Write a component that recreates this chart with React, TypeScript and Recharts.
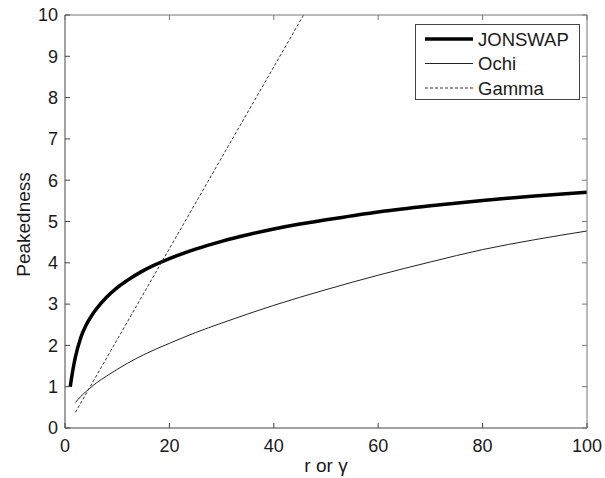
import React from "react";
import { LineChart, Line, XAxis, YAxis } from "recharts";

// values
const jonswapX = [1, 1.5, 2, 3, 4, 5, 6, 8, 10, 12, 15, 20, 25, 30, 35, 40, 45, 50, 60, 70, 80, 90, 100];
const jonswapY = [1.0, 1.4, 1.72, 2.18, 2.48, 2.7, 2.88, 3.17, 3.4, 3.58, 3.81, 4.1, 4.33, 4.52, 4.68, 4.82, 4.94, 5.04, 5.23, 5.38, 5.51, 5.62, 5.71];

const ochiX = [2, 3, 4, 5, 6, 8, 10, 12, 15, 20, 25, 30, 40, 50, 60, 70, 80, 90, 100];
const ochiY = [0.62, 0.76, 0.88, 0.99, 1.09, 1.26, 1.42, 1.57, 1.77, 2.05, 2.31, 2.54, 2.97, 3.35, 3.7, 4.02, 4.32, 4.56, 4.77];

const gammaX = [2, 45.7];
const gammaY = [0.38, 10];

const xTicks = [0, 20, 40, 60, 80, 100];
const yTicks = [0, 1, 2, 3, 4, 5, 6, 7, 8, 9, 10];

const toPoints = (xs: number[], ys: number[]) => xs.map((x, i) => ({ x, y: ys[i] }));

const series = [
    { name: "JONSWAP", data: toPoints(jonswapX, jonswapY), stroke: "#000", width: 3.5, dash: undefined as string | undefined },
    { name: "Ochi", data: toPoints(ochiX, ochiY), stroke: "#222", width: 1, dash: undefined as string | undefined },
    { name: "Gamma", data: toPoints(gammaX, gammaY), stroke: "#333", width: 1, dash: "3 2" },
];

const W = 605;
const H = 478;
const margin = { top: 14, right: 17, bottom: 0, left: 0 };
const PLOT_TOP = margin.top + 1; // top axis is 1px tall
const PLOT_RIGHT = W - margin.right - 1; // right axis is 1px wide

const frame = "#444";
const light = "#777";
const textColor = "#1a1a1a";
const TICK = 5;

// inward tick marks (matlab style): bottom + top for x, left + right for y
const BottomTick = (p: any) => (
    <g>
        <line x1={p.x} x2={p.x} y1={p.y - 11} y2={p.y - 11 - TICK} stroke={frame} />
        <line x1={p.x} x2={p.x} y1={PLOT_TOP} y2={PLOT_TOP + TICK} stroke={light} />
        <text x={p.x} y={p.y} dy="0.71em" textAnchor="middle" fontSize={18} fill={textColor}>
            {p.payload.value}
        </text>
    </g>
);

const LeftTick = (p: any) => (
    <g>
        <line x1={p.x + 7} x2={p.x + 7 + TICK} y1={p.y} y2={p.y} stroke={frame} />
        <line x1={PLOT_RIGHT} x2={PLOT_RIGHT - TICK} y1={p.y} y2={p.y} stroke={light} />
        <text x={p.x} y={p.y} dy="0.355em" textAnchor="end" fontSize={18} fill={textColor}>
            {p.payload.value}
        </text>
    </g>
);

function Legend() {
    return (
        <div
            style={{
                position: "absolute",
                left: 415,
                top: 24,
                width: 165,
                height: 76,
                border: `1px solid ${frame}`,
                background: "#fff",
                boxSizing: "border-box",
            }}
        >
            <svg width={163} height={74}>
                {series.map((s, i) => {
                    const cy = 14 + i * 24.5;
                    return (
                        <g key={s.name}>
                            <line x1={9} x2={57} y1={cy} y2={cy} stroke={s.stroke} strokeWidth={s.width} strokeDasharray={s.dash} />
                            <text x={62} y={cy} dominantBaseline="central" fontSize={18.5} fill={textColor}>
                                {s.name}
                            </text>
                        </g>
                    );
                })}
            </svg>
        </div>
    );
}

export default function App() {
    return (
        <div
            style={{
                position: "absolute",
                left: 0,
                top: 0,
                width: W,
                height: H,
                background: "#fff",
                fontFamily: "'Liberation Sans', Arial, sans-serif",
            }}
        >
            <LineChart width={W} height={H} margin={margin}>
                <XAxis
                    xAxisId="b"
                    type="number"
                    dataKey="x"
                    domain={[0, 100]}
                    ticks={xTicks}
                    interval={0}
                    allowDataOverflow
                    height={50}
                    tickSize={0}
                    tickMargin={11}
                    axisLine={{ stroke: frame }}
                    tickLine={false}
                    tick={BottomTick}
                    label={{ value: "r or γ", position: "insideBottom", offset: 6, fontSize: 19, fill: textColor }}
                />
                <XAxis
                    xAxisId="t"
                    orientation="top"
                    type="number"
                    domain={[0, 100]}
                    height={1}
                    axisLine={{ stroke: light }}
                    tickLine={false}
                    tick={false}
                />
                <YAxis
                    yAxisId="l"
                    type="number"
                    domain={[0, 10]}
                    ticks={yTicks}
                    interval={0}
                    allowDataOverflow
                    width={65}
                    tickSize={0}
                    tickMargin={7}
                    axisLine={{ stroke: frame }}
                    tickLine={false}
                    tick={LeftTick}
                    label={{
                        value: "Peakedness",
                        content: (props: any) => {
                            const vb = props.viewBox || { y: PLOT_TOP, height: 413 };
                            const cy = vb.y + vb.height / 2 + 3;
                            return (
                                <text
                                    x={23}
                                    y={cy}
                                    transform={`rotate(-90 23 ${cy})`}
                                    textAnchor="middle"
                                    dominantBaseline="central"
                                    fontSize={19}
                                    fill={textColor}
                                >
                                    Peakedness
                                </text>
                            );
                        },
                    }}
                />
                <YAxis
                    yAxisId="r"
                    orientation="right"
                    type="number"
                    domain={[0, 10]}
                    width={1}
                    axisLine={{ stroke: light }}
                    tickLine={false}
                    tick={false}
                />
                {series.map((s) => (
                    <Line
                        key={s.name}
                        xAxisId="b"
                        yAxisId="l"
                        data={s.data}
                        dataKey="y"
                        name={s.name}
                        type="monotone"
                        stroke={s.stroke}
                        strokeWidth={s.width}
                        strokeDasharray={s.dash}
                        dot={false}
                        activeDot={false}
                        isAnimationActive={false}
                    />
                ))}
            </LineChart>
            <Legend />
        </div>
    );
}
